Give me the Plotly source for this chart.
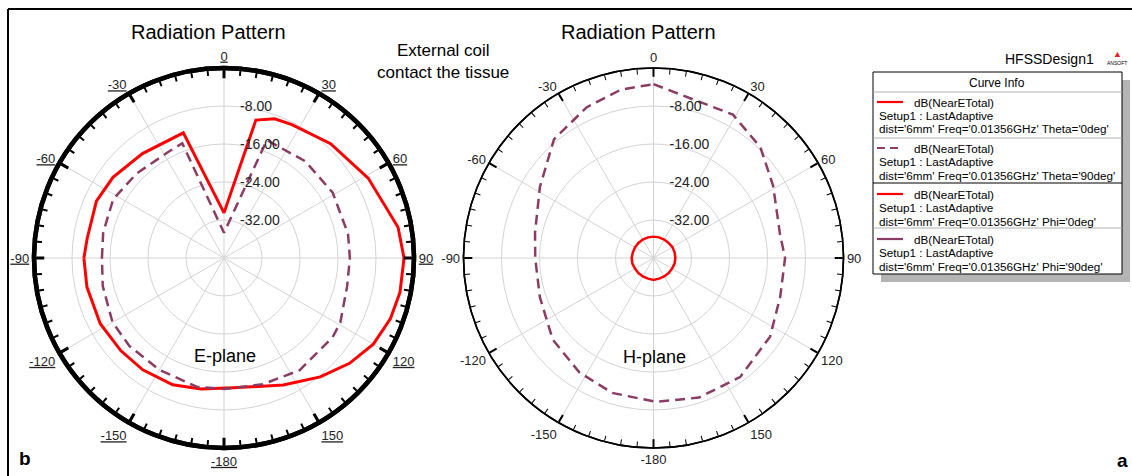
import plotly.graph_objects as go

W, H = 1132, 476
FONT = "Arial, Liberation Sans, sans-serif"
RED = "#FF0000"
PURPLE = "#8C3C64"

# ---------------- data (dB vs angle, degrees) ----------------
# E-plane, Theta=0deg (red solid)
e_red_theta = [-90, -82, -66, -54, -38, -18, 0, 13, 20, 27, 43, 61, 80, 90, 101, 110, 120, 130, 141,
               155, 176, 190, 202, 216, 228, 242, 258, 270]
e_red_db = [-10.5, -10.9, -10.6, -11.1, -12.1, -12.3, -30.5, -10.2, -8.8, -8.5, -7.1, -5.3, -2.8, -2.1,
            -2.25, -2.7, -3.7, -5.5, -7.8, -10.5, -12.6, -12.0, -11.2, -10.9, -10.8, -10.5, -10.5, -10.5]

# E-plane, Theta=90deg (purple dashed)
e_pur_theta = [-90, -78, -62, -46, -28, -20, 0, 20, 40, 59, 79, 90, 103, 119, 126, 146, 163, 180,
               192, 210, 227, 240, 257, 270]
e_pur_db = [-14.3, -14.0, -13.6, -14.4, -14.8, -14.3, -34.7, -13.6, -13.4, -13.3, -13.4, -13.5, -13.4,
            -12.0, -11.7, -11.5, -12.2, -12.4, -12.3, -12.8, -12.8, -12.9, -13.8, -14.3]

# H-plane, Phi=0deg (red solid, small circle)
h_red_theta = [0, 30, 60, 90, 120, 150, 180, 210, 240, 270, 300, 330, 360,
               15, 45, 75, 105, 135, 165, 195, 225, 255, 285, 315, 345]
h_red_db = [-35.5, -35.5, -35.4, -35.4, -35.5, -35.5, -35.4, -35.5, -35.5, -35.4, -35.5, -35.5, -35.5,
            -35.5, -35.5, -35.4, -35.4, -35.5, -35.5, -35.5, -35.5, -35.4, -35.5, -35.5, -35.5]

# H-plane, Phi=90deg (purple dashed)
h_pur_theta = [0, 29, 44, 59, 79, 90, 107, 124, 144, 162, 179, 197, 213, 231, 251, 270, 282, 302,
               320, 336, 349, 360]
h_pur_db = [-3.4, -5.5, -7.6, -10.6, -12.9, -12.3, -12.1, -10.4, -9.0, -9.1, -9.7, -10.3, -11.3,
            -12.7, -14.7, -15.1, -14.5, -11.8, -7.4, -5.3, -3.9, -3.4]

radial_ticks = [-32, -24, -16, -8]
radial_labels = ["-32.00", "-24.00", "-16.00", "-8.00"]
angle_vals = [0, 30, 60, 90, 120, 150, 180, 210, 240, 270, 300, 330]
angle_labels = ["0", "30", "60", "90", "120", "150", "-180", "-150", "-120", "-90", "-60", "-30"]

legend_rows = [
    ("dB(NearETotal)", "Setup1 : LastAdaptive", "dist='6mm' Freq='0.01356GHz' Theta='0deg'", RED, "solid"),
    ("dB(NearETotal)", "Setup1 : LastAdaptive", "dist='6mm' Freq='0.01356GHz' Theta='90deg'", PURPLE, "dash"),
    ("dB(NearETotal)", "Setup1 : LastAdaptive", "dist='6mm' Freq='0.01356GHz' Phi='0deg'", RED, "solid"),
    ("dB(NearETotal)", "Setup1 : LastAdaptive", "dist='6mm' Freq='0.01356GHz' Phi='90deg'", PURPLE, "solid"),
]


def close(a):
    return list(a) + [a[0]]


def sort_pair(t, r):
    p = sorted(zip(t, r))
    return [x for x, _ in p], [y for _, y in p]


def px(x):
    return x / W


def py(y):
    return 1 - y / H


fig = go.Figure()

# E-plane
fig.add_trace(go.Scatterpolar(theta=close(e_red_theta), r=close(e_red_db), mode="lines",
                              line=dict(color=RED, width=3), subplot="polar", showlegend=False))
fig.add_trace(go.Scatterpolar(theta=close(e_pur_theta), r=close(e_pur_db), mode="lines",
                              line=dict(color=PURPLE, width=2.5, dash="10px,6px"),
                              subplot="polar", showlegend=False))
# H-plane
ht, hr = sort_pair(h_red_theta, h_red_db)
fig.add_trace(go.Scatterpolar(theta=ht, r=hr, mode="lines", line=dict(color=RED, width=2.5),
                              subplot="polar3", showlegend=False))
fig.add_trace(go.Scatterpolar(theta=h_pur_theta, r=h_pur_db, mode="lines",
                              line=dict(color=PURPLE, width=2.5, dash="10px,6px"),
                              subplot="polar3", showlegend=False))
# invisible traces to create overlay polars carrying the minor ticks
fig.add_trace(go.Scatterpolar(theta=[0], r=[-40], mode="markers", marker=dict(size=0.1, opacity=0),
                              subplot="polar2", showlegend=False, hoverinfo="skip"))
fig.add_trace(go.Scatterpolar(theta=[0], r=[-40], mode="markers", marker=dict(size=0.1, opacity=0),
                              subplot="polar4", showlegend=False, hoverinfo="skip"))

R = 190
cL = (224, 258)
cR = (653.5, 258)
PAD = "&nbsp;" * 4


def dom(c):
    return dict(x=[px(c[0] - R), px(c[0] + R)], y=[py(c[1] + R), py(c[1] - R)])


def main_polar(c, underline, lw, tw):
    labels = [f"<u>{s}</u>" for s in angle_labels] if underline else angle_labels
    return dict(
        domain=dom(c), bgcolor="white",
        radialaxis=dict(range=[-40, 0], tickvals=radial_ticks,
                        ticktext=[PAD + s for s in radial_labels], angle=90,
                        tickangle=90, showline=False, ticks="", gridcolor="#d4d4d4", gridwidth=1,
                        tickfont=dict(family=FONT, size=14, color="#222")),
        angularaxis=dict(rotation=90, direction="clockwise", tickvals=angle_vals, ticktext=labels,
                         ticks="inside", ticklen=8, tickwidth=tw, tickcolor="black",
                         linecolor="black", linewidth=lw, showgrid=True, gridcolor="#d4d4d4",
                         gridwidth=1, tickfont=dict(family=FONT, size=13, color="#222")),
    )


def minor_polar(c, lw, tw):
    return dict(
        domain=dom(c), bgcolor="rgba(0,0,0,0)",
        radialaxis=dict(range=[-40, 0], visible=False),
        angularaxis=dict(rotation=90, direction="clockwise", tickvals=list(range(0, 360, 5)),
                         ticktext=[""] * 72, ticks="inside", ticklen=5, tickwidth=tw,
                         tickcolor="black", linecolor="black", linewidth=lw, showgrid=False),
    )


fig.update_layout(
    width=W, height=H, margin=dict(l=0, r=0, t=0, b=0),
    paper_bgcolor="white", plot_bgcolor="white",
    polar=main_polar(cL, True, 4.5, 2.5), polar2=minor_polar(cL, 4.5, 1.5),
    polar3=main_polar(cR, False, 1.6, 2), polar4=minor_polar(cR, 1.6, 1.2),
)

ann = []


def text(x, y, s, size, bold=False, xanchor="center", color="black"):
    ann.append(dict(x=px(x), y=py(y), xref="paper", yref="paper", text=(f"<b>{s}</b>" if bold else s),
                    showarrow=False, xanchor=xanchor, yanchor="middle",
                    font=dict(family=FONT, size=size, color=color)))


text(208, 32, "Radiation Pattern", 20)
text(638, 32, "Radiation Pattern", 20)
text(443, 51, "External coil", 17)
text(443, 72, "contact the tissue", 17)
text(225, 356, "E-plane", 18)
text(654, 357, "H-plane", 18)
text(25, 458, "b", 19, bold=True)
text(1122, 460, "a", 19, bold=True)
text(1049, 59, "HFSSDesign1", 14)
text(1117, 54, "▲", 9, color="#E02020")
text(1117, 63, "ANSOFT", 5)
text(997, 83, "Curve Info", 12)

shapes = [
    dict(type="line", xref="paper", yref="paper", x0=px(8), x1=px(1132), y0=py(9), y1=py(9),
         line=dict(color="black", width=2)),
    dict(type="line", xref="paper", yref="paper", x0=px(8), x1=px(8), y0=py(9), y1=py(476),
         line=dict(color="black", width=2)),
    dict(type="rect", xref="paper", yref="paper", x0=px(881), x1=px(1130), y0=py(80), y1=py(282),
         fillcolor="#b4b4b4", line=dict(width=0)),
    dict(type="rect", xref="paper", yref="paper", x0=px(873), x1=px(1122), y0=py(72), y1=py(274),
         fillcolor="white", line=dict(color="black", width=1)),
    dict(type="line", xref="paper", yref="paper", x0=px(873), x1=px(1122), y0=py(92), y1=py(92),
         line=dict(color="#b0b0b0", width=1)),
]
row_y = [102, 148, 194, 239]
sep_y = [(138, "#b0b0b0"), (183, "black"), (228, "#b0b0b0")]
for ys, col in sep_y:
    shapes.append(dict(type="line", xref="paper", yref="paper", x0=px(873), x1=px(1122), y0=py(ys),
                       y1=py(ys), line=dict(color=col, width=1)))
for (l1, l2, l3, col, dash), y0 in zip(legend_rows, row_y):
    shapes.append(dict(type="line", xref="paper", yref="paper", x0=px(877), x1=px(903), y0=py(y0),
                       y1=py(y0), line=dict(color=col, width=2.2,
                                            dash=("8px,5px" if dash == "dash" else "solid"))))
    text(912, y0, l1, 11.7, xanchor="left")
    text(877, y0 + 13, l2, 11.7, xanchor="left")
    text(877, y0 + 27, l3, 11.7, xanchor="left")

fig.update_layout(annotations=ann, shapes=shapes)
fig.write_html("out.html", config={"displayModeBar": False},
               post_script="document.body.style.margin='0';document.body.style.overflow='hidden';")
